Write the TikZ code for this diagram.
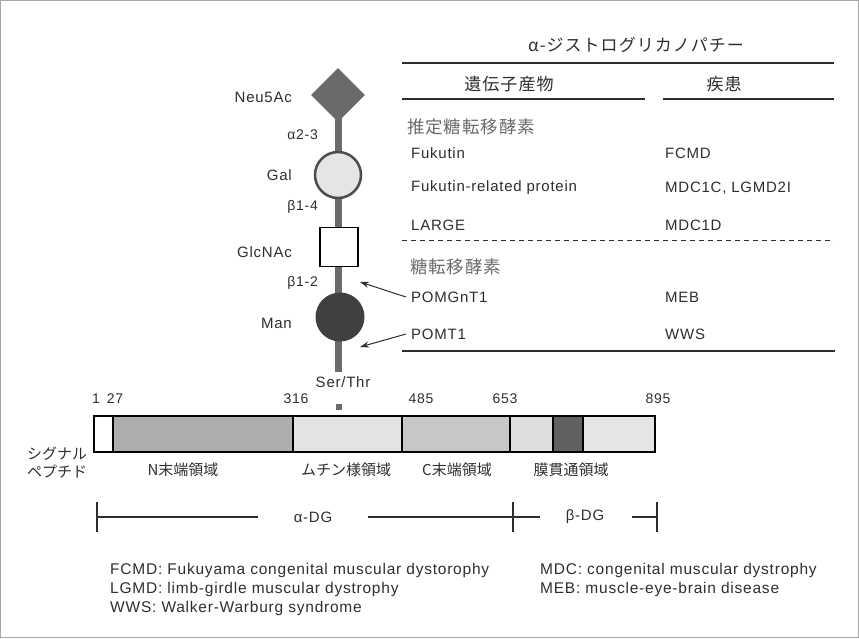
\documentclass[tikz,border=0pt]{standalone}
\usepackage{fontspec}
\setmainfont{Liberation Sans}[LetterSpace=5]
\newfontfamily\jp{Noto Sans CJK JP}
\usetikzlibrary{shapes.geometric,arrows.meta}
\definecolor{txt}{HTML}{2E2E2E}
\definecolor{stem}{HTML}{6A6A6A}
\definecolor{lightjp}{HTML}{6A6A6A}
\tikzset{
  lab/.style={inner sep=0pt, text=txt, font=\fontsize{15}{17}\selectfont},
  link/.style={inner sep=0pt, text=txt, font=\fontsize{14}{16}\selectfont},
  cell/.style={inner sep=0pt, anchor=west, text=txt, font=\fontsize{15}{17}\selectfont},
  jpcell/.style={inner sep=0pt, anchor=west, text=lightjp, font=\jp\fontsize{17.5}{19}\selectfont\addfontfeature{LetterSpace=5}},
  jphead/.style={inner sep=0pt, text=txt, font=\jp\fontsize{17}{19}\selectfont\addfontfeature{LetterSpace=6}},
  jplab/.style={inner sep=0pt, text=txt, font=\jp\fontsize{15}{17}\selectfont},
  num/.style={inner sep=0pt, text=txt, font=\fontsize{14}{16}\selectfont},
  foot/.style={inner sep=0pt, anchor=west, text=txt, font=\fontsize{15.5}{17}\selectfont},
  rule/.style={line width=1.3pt, color=txt},
  seg/.style={draw=black, line width=1.6pt},
  arr/.style={-{Stealth[length=9pt,width=6pt]}, line width=1pt, color=txt},
}
\begin{document}
\begin{tikzpicture}[x=1pt,y=-1pt]
\useasboundingbox (0,0) rectangle (859,639);
\draw[color=black!35, line width=1pt] (0.5,0.5) rectangle (858.5,637.5);

% ---- glycan chain ----
\draw[line width=7pt, color=stem] (338,110) -- (338,372);
\node[diamond, fill=stem, minimum width=54pt, minimum height=54pt, inner sep=0pt] (neu) at (338,95) {};
\node[circle, fill=black!10, draw=black!70, line width=2.5pt, minimum size=46pt, inner sep=0pt] (gal) at (338,175) {};
\node[rectangle, fill=white, draw=black, line width=1.4pt, minimum width=38pt, minimum height=39pt, inner sep=0pt] (glc) at (339,247) {};
\node[circle, fill=black!75, minimum size=49pt, inner sep=0pt] (man) at (340,317) {};
\node[lab] (serthr) at (343,382) {Ser/Thr};
\node[rectangle, fill=stem, minimum size=6pt, inner sep=0pt] (site) at (339,407) {};

\node[lab, anchor=east] (lneu) at (292,97) {Neu5Ac};
\node[link, anchor=east] (l23) at (318,135) {α2-3};
\node[lab, anchor=east] (lgal) at (292,175) {Gal};
\node[link, anchor=east] (l14) at (318,207) {β1-4};
\node[lab, anchor=east] (lglc) at (292,252) {GlcNAc};
\node[link, anchor=east] (l12) at (318,283) {β1-2};
\node[lab, anchor=east] (lman) at (292,323) {Man};

% ---- table ----
\node[jphead] (title) at (636,45) {α-ジストログリカノパチー};
\draw[rule] (402,63) -- (834,63);
\node[jphead] (hgene) at (509,84) {遺伝子産物};
\node[jphead] (hdis) at (724,84) {疾患};
\draw[rule] (402,99) -- (645,99);
\draw[rule] (663,99) -- (834,99);
\node[jpcell] (put) at (407,127) {推定糖転移酵素};
\node[cell] (fuk) at (411,153) {Fukutin};
\node[cell] (fcmd) at (665,153) {FCMD};
\node[cell] (frp) at (411,188) {Fukutin-related protein};
\node[cell] (mdc1c) at (665,188) {MDC1C, LGMD2I};
\node[cell] (large) at (411,225) {LARGE};
\node[cell] (mdc1d) at (665,225) {MDC1D};
\draw[dashed, dash pattern=on 5pt off 4pt, line width=1pt, color=txt] (402,240) -- (834,240);
\node[jpcell] (gt) at (410,267) {糖転移酵素};
\node[cell] (pom) at (411,297) {POMGnT1};
\node[cell] (meb) at (665,297) {MEB};
\node[cell] (pomt) at (411,334) {POMT1};
\node[cell] (wws) at (665,334) {WWS};
\draw[rule] (402,351) -- (835,351);

\coordinate (h1) at (360,282);
\coordinate (h2) at (360,347);
\draw[arr] ([xshift=-5pt]pom.west) -- (h1);
\draw[arr] ([xshift=-5pt]pomt.west) -- (h2);

% ---- protein bar ----
\fill[white] (94,416) rectangle (113,452);
\fill[black!32] (113,416) rectangle (293,452);
\fill[black!11] (293,416) rectangle (402,452);
\fill[black!22] (402,416) rectangle (510,452);
\fill[black!13] (510,416) rectangle (553,452);
\fill[black!62] (553,416) rectangle (583,452);
\fill[black!10] (583,416) rectangle (655,452);
\draw[seg] (94,416) rectangle (655,452);
\foreach \xx in {113,293,402,510,553,583} \draw[seg] (\xx,416) -- (\xx,452);

\node[num] (n1) at (96,399) {1};
\node[num] (n27) at (115,399) {27};
\node[num] (n316) at (296,399) {316};
\node[num] (n485) at (421,399) {485};
\node[num] (n653) at (505,399) {653};
\node[num] (n895) at (658,399) {895};

\node[jplab, anchor=west] (sig1) at (27,454) {シグナル};
\node[jplab, anchor=west] (sig2) at (27,472) {ペプチド};
\node[jplab] (nterm) at (183,470) {N末端領域};
\node[jplab] (mucin) at (346,470) {ムチン様領域};
\node[jplab] (cterm) at (457,470) {C末端領域};
\node[jplab] (tm) at (571,470) {膜貫通領域};

% ---- alpha/beta DG ----
\node[lab] (adg) at (313,517) {α-DG};
\node[lab] (bdg) at (585,517) {β-DG};
\coordinate (t0) at (97,517);
\coordinate (t1) at (513,517);
\coordinate (t2) at (657,517);
\draw[rule] (t0) -- (258,517);
\draw[rule] (368,517) -- (540,517);
\draw[rule] (632,517) -- (t2);
\draw[rule] (97,502) -- (97,532);
\draw[rule] (513,502) -- (513,532);
\draw[rule] (657,502) -- (657,532);

% ---- footnotes ----
\node[foot] (f1) at (110,570) {FCMD: Fukuyama congenital muscular dystorophy};
\node[foot] (f2) at (110,589) {LGMD: limb-girdle muscular dystrophy};
\node[foot] (f3) at (110,608) {WWS: Walker-Warburg syndrome};
\node[foot] (f4) at (540,570) {MDC: congenital muscular dystrophy};
\node[foot] (f5) at (540,589) {MEB: muscle-eye-brain disease};
\end{tikzpicture}
\end{document}
